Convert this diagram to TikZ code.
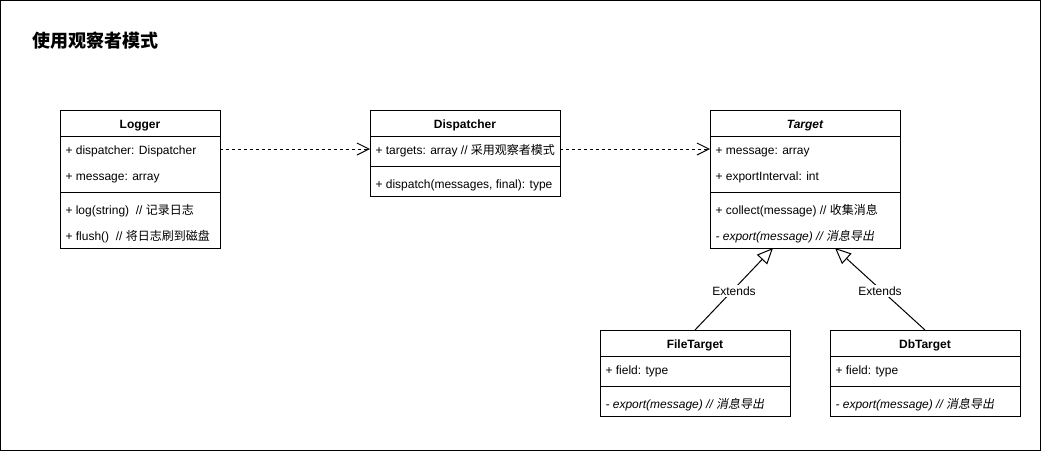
\documentclass[tikz,border=0pt]{standalone}
\usepackage{fontspec}
\setmainfont{Liberation Sans}
\newfontfamily\cjk{Noto Sans CJK SC}
\newfontfamily\cjkit{Noto Sans CJK SC}[FakeSlant=0.2]
\usetikzlibrary{arrows.meta,calc}
\begin{document}
\begin{tikzpicture}[x=1pt,y=-1pt,
  every node/.style={inner sep=0pt, outer sep=0pt},
  cls/.style={draw, line width=1pt, anchor=north west},
  txt/.style={anchor=west, font=\fontsize{12}{14}\selectfont, text height=8.6pt, text depth=0pt, xshift=1.5pt, yshift=-1.5pt},
  hdr/.style={font=\fontsize{12}{14}\selectfont\bfseries, text height=8.6pt, text depth=0pt, yshift=-1pt},
  sepline/.style={line width=1pt},
  dep/.style={line width=1pt, dash pattern=on 3pt off 3pt, -{Straight Barb[length=12pt,width=12pt]}},
  inh/.style={line width=1pt, -{Triangle[open, length=16pt, width=14pt, fill=white]}},
  lbl/.style={fill=white, inner sep=1.5pt, font=\fontsize{12}{14}\selectfont, text height=8.6pt, text depth=0pt, yshift=-2pt}]
\useasboundingbox (0,0) rectangle (1041,451);
\draw[line width=1pt] (0.5,0.5) rectangle (1040.5,450.5);

\node[anchor=west, font=\fontsize{18}{20}\selectfont\cjk\bfseries, text height=13pt, text depth=0pt] (title) at (32,41) {使用观察者模式};

% Logger
\node[cls, minimum width=160pt, minimum height=138pt] (logger) at (60,110) {};
\draw[sepline] (logger.north west) ++(0,26) -- ++(160,0);
\draw[sepline] (logger.north west) ++(0,82) -- ++(160,0);
\node[hdr] (lh) at (140,123) {Logger};
\node[txt] (l1) at (64,149) {+ dispatcher: Dispatcher};
\node[txt] (l2) at (64,175) {+ message: array};
\node[txt] (l3) at (64,209) {+ log(string)\ \ // {\cjk 记录日志}};
\node[txt] (l4) at (64,235) {+ flush()\ \ // {\cjk 将日志刷到磁盘}};

% Dispatcher
\node[cls, minimum width=190pt, minimum height=86pt] (disp) at (370,110) {};
\draw[sepline] (disp.north west) ++(0,26) -- ++(190,0);
\draw[sepline] (disp.north west) ++(0,56) -- ++(190,0);
\node[hdr] (dh) at (465,123) {Dispatcher};
\node[txt] (d1) at (374,149) {+ targets: array // {\cjk 采用观察者模式}};
\node[txt] (d2) at (374,183) {+ dispatch(messages, final): type};

% Target
\node[cls, minimum width=190pt, minimum height=138pt] (target) at (710,110) {};
\draw[sepline] (target.north west) ++(0,26) -- ++(190,0);
\draw[sepline] (target.north west) ++(0,82) -- ++(190,0);
\node[hdr, font=\fontsize{12}{14}\selectfont\bfseries\itshape] (th) at (805,123) {Target};
\node[txt] (t1) at (714,149) {+ message: array};
\node[txt] (t2) at (714,175) {+ exportInterval: int};
\node[txt] (t3) at (714,209) {+ collect(message) // {\cjk 收集消息}};
\node[txt] (t4) at (714,235) {{\itshape - export(message) // }{\cjkit 消息导出}};

% FileTarget
\node[cls, minimum width=190pt, minimum height=86pt] (filet) at (600,330) {};
\draw[sepline] (filet.north west) ++(0,26) -- ++(190,0);
\draw[sepline] (filet.north west) ++(0,56) -- ++(190,0);
\node[hdr] (fh) at (695,343) {FileTarget};
\node[txt] (f1) at (604,369) {+ field: type};
\node[txt] (f2) at (604,403) {{\itshape - export(message) // }{\cjkit 消息导出}};

% DbTarget
\node[cls, minimum width=190pt, minimum height=86pt] (dbt) at (830,330) {};
\draw[sepline] (dbt.north west) ++(0,26) -- ++(190,0);
\draw[sepline] (dbt.north west) ++(0,56) -- ++(190,0);
\node[hdr] (bh) at (925,343) {DbTarget};
\node[txt] (b1) at (834,369) {+ field: type};
\node[txt] (b2) at (834,403) {{\itshape - export(message) // }{\cjkit 消息导出}};

% connectors
\draw[dep] (logger.east |- 0,149) -- (disp.west |- 0,149);
\draw[dep] (disp.east |- 0,149) -- (target.west |- 0,149);
\draw[inh] (filet.north) -- node[lbl] (e1) {Extends} ($(target.south)+(-32,0)$);
\draw[inh] (dbt.north) -- node[lbl] (e2) {Extends} ($(target.south)+(30,0)$);
\end{tikzpicture}
\end{document}
